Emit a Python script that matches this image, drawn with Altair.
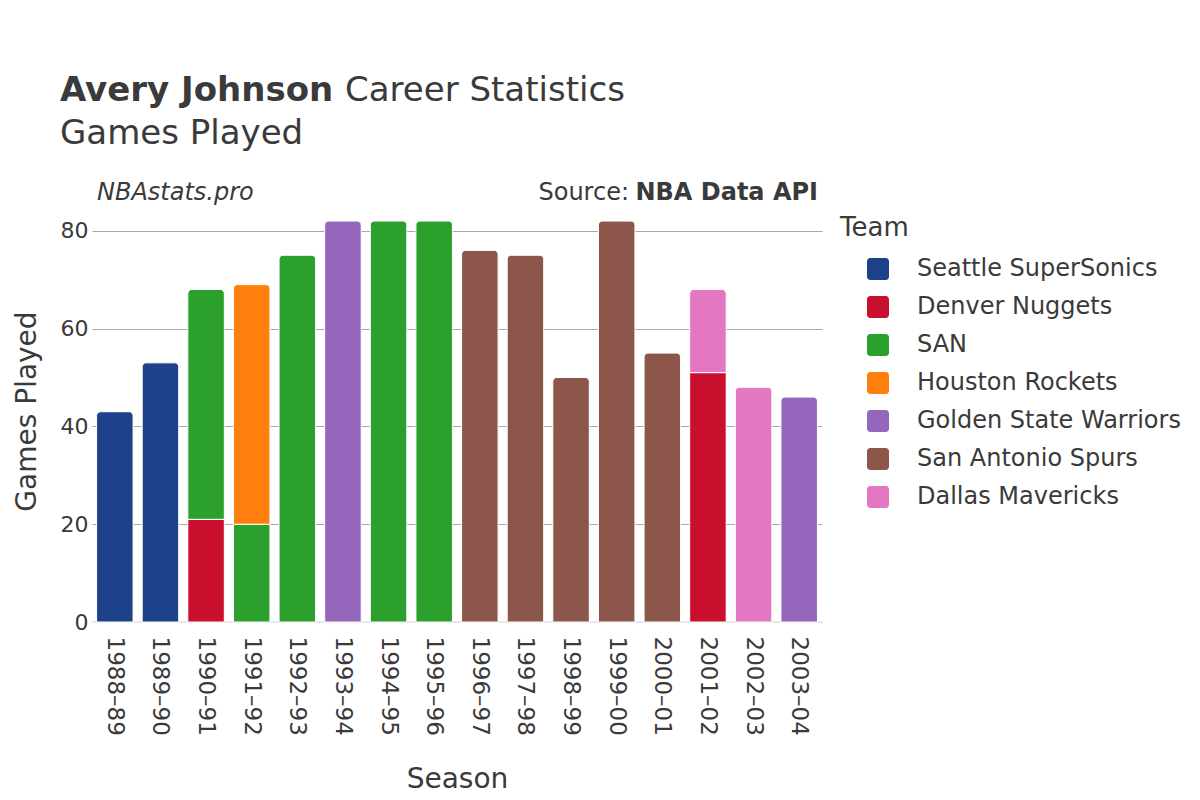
import altair as alt
import pandas as pd

seasons = ["1988–89", "1989–90", "1990–91", "1991–92", "1992–93", "1993–94", "1994–95", "1995–96",
           "1996–97", "1997–98", "1998–99", "1999–00", "2000–01", "2001–02", "2002–03", "2003–04"]

teams = ["Seattle SuperSonics", "Denver Nuggets", "SAN", "Houston Rockets",
         "Golden State Warriors", "San Antonio Spurs", "Dallas Mavericks"]
team_colors = ["#1d428a", "#c8102e", "#2ca02c", "#ff7f0e", "#9467bd", "#8c564b", "#e377c2"]

row_season = ["1988–89", "1989–90", "1990–91", "1990–91", "1991–92", "1991–92", "1992–93", "1993–94",
              "1994–95", "1995–96", "1996–97", "1997–98", "1998–99", "1999–00", "2000–01",
              "2001–02", "2001–02", "2002–03", "2003–04"]
row_team = ["Seattle SuperSonics", "Seattle SuperSonics", "Denver Nuggets", "SAN", "SAN", "Houston Rockets",
            "SAN", "Golden State Warriors", "SAN", "SAN", "San Antonio Spurs", "San Antonio Spurs",
            "San Antonio Spurs", "San Antonio Spurs", "San Antonio Spurs", "Denver Nuggets",
            "Dallas Mavericks", "Dallas Mavericks", "Golden State Warriors"]
row_games = [43, 53, 21, 47, 20, 49, 75, 82, 82, 82, 76, 75, 50, 82, 55, 51, 17, 48, 46]

# stack in order of appearance within each season
y0, y1, top = [], [], []
running = {}
for i, (s, g) in enumerate(zip(row_season, row_games)):
    start = running.get(s, 0)
    y0.append(start)
    y1.append(start + g)
    running[s] = start + g
    is_top = 1 if (i == len(row_season) - 1 or row_season[i + 1] != s) else 0
    top.append(is_top)

df = pd.DataFrame({"season": row_season, "team": row_team, "games": row_games,
                   "y0": y0, "y1": y1, "top": top})

FONT = "DejaVu Sans"
TXT = "#3a3a3a"

rounded_square = ("M-0.7,-1H0.7A0.3,0.3,0,0,1,1,-0.7V0.7A0.3,0.3,0,0,1,0.7,1H-0.7"
                  "A0.3,0.3,0,0,1,-1,0.7V-0.7A0.3,0.3,0,0,1,-0.7,-1Z")

x_enc = alt.X("season:N", sort=seasons,
              scale=alt.Scale(domain=seasons, paddingInner=0.2, paddingOuter=0.1),
              axis=alt.Axis(title="Season", labelAngle=90, labelFontSize=23, labelPadding=14,
                            ticks=False, domain=False, titleFontSize=28, titleFontWeight="normal",
                            titleY=165, titleBaseline="alphabetic"))
y_enc = alt.Y("y1:Q", scale=alt.Scale(domain=[0, 86.1], nice=False),
              axis=alt.Axis(title="Games Played", values=[0, 20, 40, 60, 80], labelFontSize=22,
                            labelPadding=4, ticks=False, domain=False, grid=True,
                            gridColor="#a8a8a8", gridWidth=1, titleFontSize=28,
                            titleFontWeight="normal", titleX=-65, titleY=210,
                            titleAngle=-90, titleBaseline="middle", titleAlign="center"))
color_enc = alt.Color("team:N", scale=alt.Scale(domain=teams, range=team_colors),
                      legend=alt.Legend(title="Team", orient="none", legendX=748, legendY=14,
                                        titleFontSize=26, titleFontWeight="normal", titleColor=TXT,
                                        titleFont=FONT, labelFont=FONT, labelFontSize=24,
                                        labelColor=TXT, labelLimit=400, symbolType=rounded_square,
                                        symbolSize=484, symbolStrokeWidth=0, symbolOpacity=1,
                                        symbolOffset=26, labelOffset=27, rowPadding=14,
                                        titlePadding=16, padding=0))

base = alt.Chart(df)

lower = base.transform_filter("datum.top == 0").mark_bar(stroke="white", strokeWidth=1).encode(
    x=x_enc, y=y_enc, y2="y0:Q", color=color_enc)
upper = base.transform_filter("datum.top == 1").mark_bar(
    stroke="white", strokeWidth=1, cornerRadiusTopLeft=4, cornerRadiusTopRight=4).encode(
    x=x_enc, y=y_enc, y2="y0:Q", color=color_enc)

zero = alt.Chart(pd.DataFrame({"z": [0]})).mark_rule(color="#e8e8e8", strokeWidth=2).encode(
    y=alt.datum(0))


def label(text, x, y, size, weight="normal", style="normal", align="left"):
    return alt.Chart(pd.DataFrame({"t": [text]})).mark_text(
        align=align, baseline="alphabetic", font=FONT, fontSize=size, fontWeight=weight,
        fontStyle=style, color=TXT).encode(text="t:N", x=alt.value(x), y=alt.value(y))


texts = [
    label("Avery Johnson", -32, -100, 34, weight="bold"),
    label("Career Statistics", 253, -100, 34),
    label("Games Played", -32, -57, 34),
    label("NBAstats.pro", 5, -1, 24, style="italic"),
    label("Source:", 537, -1, 24, align="right"),
    label("NBA Data API", 726, -1, 24, weight="bold", align="right"),
]

chart = alt.layer(zero, lower, upper, *texts).properties(
    width=730, height=421,
    autosize=alt.AutoSizeParams(type="none"),
    padding={"left": 84, "top": 193, "right": 360, "bottom": 176},
    background="white",
).configure_view(stroke=None).configure_axis(
    labelFont=FONT, titleFont=FONT, labelColor=TXT, titleColor=TXT
)

chart.save("out.html", embed_options={"renderer": "svg", "actions": False})
